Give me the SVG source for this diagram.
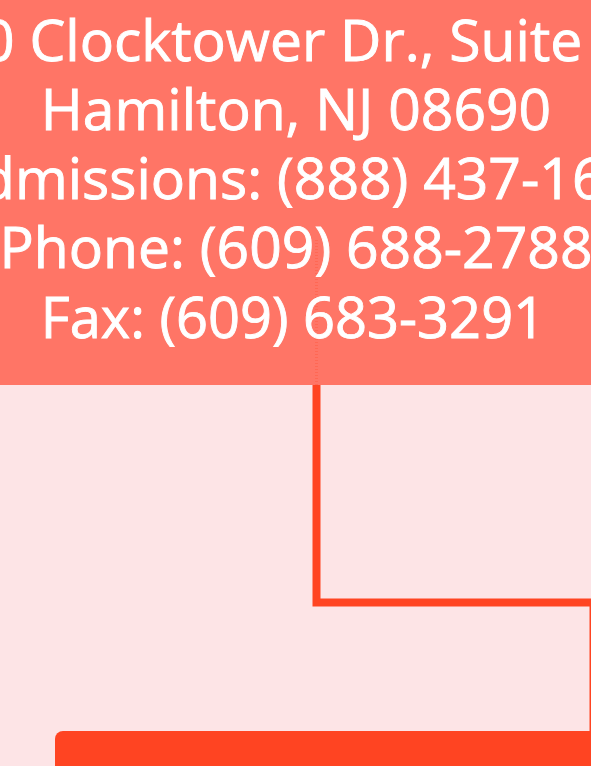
<svg xmlns="http://www.w3.org/2000/svg" width="591" height="766" viewBox="0 0 591 766">
  <style>
    .lbl { font-family: "Open Sans", "Noto Sans", "DejaVu Sans", sans-serif; font-size: 57px; font-weight: 500; fill: #ffffff; stroke: #ffffff; stroke-width: 0.9; }
    .conn { fill: none; stroke: #ff4422; stroke-width: 8; stroke-linejoin: miter; }
  </style>
  <rect x="0" y="0" width="591" height="766" fill="#fde4e6"/>
  <g id="connectors">
    <path class="conn" d="M316.5 300 V602.5 H593.5 V740"/>
  </g>
  <g id="node-contact">
    <rect x="-10" y="-100" width="611" height="485" rx="6" fill="#ff7566"/>
    <line x1="316.5" y1="240" x2="316.5" y2="385" stroke="#ff4422" stroke-width="3" stroke-dasharray="1 2" opacity="0.25"/>
    <text class="lbl" x="-18" y="61">0 Clocktower Dr., Suite</text>
    <text class="lbl" x="296" y="130" text-anchor="middle">Hamilton, NJ 08690</text>
    <text class="lbl" x="-56" y="199">Admissions: (888) 437-16</text>
    <text class="lbl" x="296" y="268" text-anchor="middle">Phone: (609) 688-2788</text>
    <text class="lbl" x="293" y="338" text-anchor="middle" style="font-size:56px">Fax: (609) 683-3291</text>
  </g>
  <g id="node-bottom">
    <rect x="55" y="731" width="560" height="80" rx="8" fill="#ff4422"/>
  </g>
</svg>
